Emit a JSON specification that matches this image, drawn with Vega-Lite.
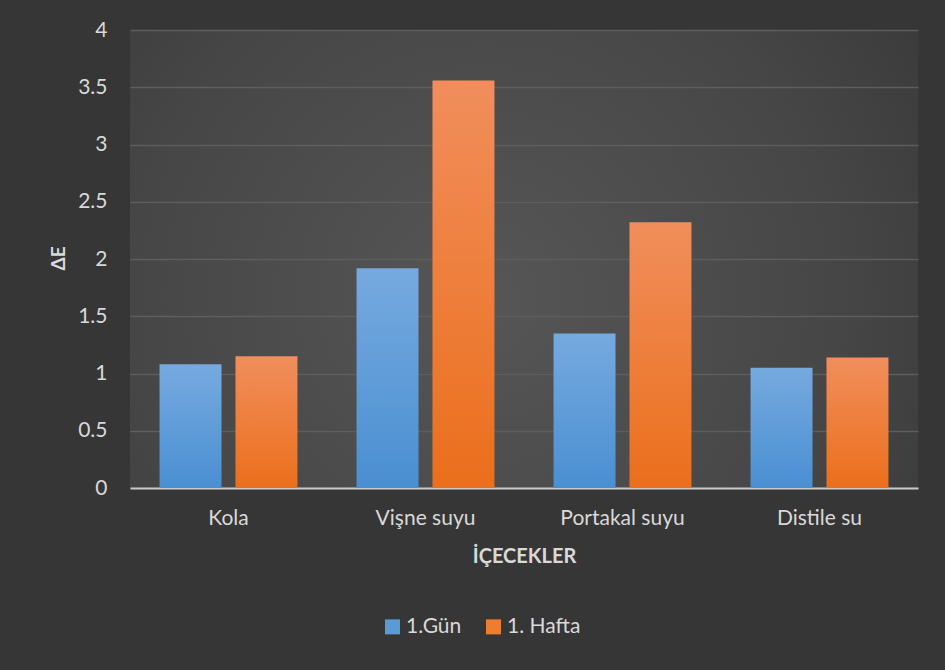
{
  "$schema": "https://vega.github.io/schema/vega-lite/v6.json",
  "autosize": "none",
  "width": 788,
  "height": 458,
  "padding": {"left": 130, "top": 30, "right": 27, "bottom": 182},
  "background": "#363636",
  "config": {
    "font": "Lato",
    "view": {
      "stroke": null,
      "fill": {
        "gradient": "radial",
        "x1": 0.45, "y1": 0.55, "r1": 0,
        "x2": 0.45, "y2": 0.55, "r2": 0.75,
        "stops": [
          {"offset": 0, "color": "#565656"},
          {"offset": 0.6, "color": "#464646"},
          {"offset": 1, "color": "#363636"}
        ]
      }
    }
  },
  "data": {
    "values": [
      {"drink": "Kola", "series": "1.Gün", "value": 1.08},
      {"drink": "Kola", "series": "1. Hafta", "value": 1.15},
      {"drink": "Vişne suyu", "series": "1.Gün", "value": 1.92},
      {"drink": "Vişne suyu", "series": "1. Hafta", "value": 3.56},
      {"drink": "Portakal suyu", "series": "1.Gün", "value": 1.35},
      {"drink": "Portakal suyu", "series": "1. Hafta", "value": 2.32},
      {"drink": "Distile su", "series": "1.Gün", "value": 1.05},
      {"drink": "Distile su", "series": "1. Hafta", "value": 1.14}
    ]
  },
  "mark": {"type": "bar", "strokeWidth": 0},
  "encoding": {
    "x": {
      "field": "drink",
      "type": "nominal",
      "sort": ["Kola", "Vişne suyu", "Portakal suyu", "Distile su"],
      "scale": {"paddingInner": 0.3, "paddingOuter": 0.15},
      "axis": {
        "title": "İÇECEKLER",
        "labelAngle": 0,
        "labelFont": "Lato",
        "labelFontSize": 21,
        "labelColor": "#d9d9d9",
        "labelPadding": 19,
        "ticks": false,
        "tickSize": 0,
        "domainColor": "#c8c8c8",
        "domainWidth": 2,
        "grid": false,
        "titleFont": "Lato",
        "titleFontSize": 20,
        "titleFontWeight": "bold",
        "titleColor": "#d9d9d9",
        "titleY": 68,
        "titleBaseline": "middle"
      }
    },
    "xOffset": {
      "field": "series",
      "type": "nominal",
      "sort": ["1.Gün", "1. Hafta"],
      "scale": {"paddingInner": 0.184, "paddingOuter": 0}
    },
    "y": {
      "field": "value",
      "type": "quantitative",
      "scale": {"domain": [0, 4]},
      "axis": {
        "title": "ΔE",
        "values": [0, 0.5, 1, 1.5, 2, 2.5, 3, 3.5, 4],
        "format": ".1~f",
        "domain": false,
        "ticks": false,
        "tickSize": 0,
        "labelFont": "Lato",
        "labelFontSize": 21,
        "labelColor": "#d9d9d9",
        "labelPadding": 23,
        "gridColor": "#5e5e5e",
        "gridWidth": 1.5,
        "titleFont": "Lato",
        "titleFontSize": 19,
        "titleFontWeight": "bold",
        "titleColor": "#d9d9d9",
        "titleX": -72,
        "titleY": 228,
        "titleAngle": -90,
        "titleAlign": "center",
        "titleBaseline": "middle"
      }
    },
    "fill": {
      "condition": {
        "test": "datum.series === '1.Gün'",
        "value": {
          "gradient": "linear", "x1": 0, "y1": 0, "x2": 0, "y2": 1,
          "stops": [
            {"offset": 0, "color": "#76aadf"},
            {"offset": 1, "color": "#4a8fd2"}
          ]
        }
      },
      "value": {
        "gradient": "linear", "x1": 0, "y1": 0, "x2": 0, "y2": 1,
        "stops": [
          {"offset": 0, "color": "#f18e5c"},
          {"offset": 1, "color": "#eb6f1c"}
        ]
      }
    },
    "stroke": {
      "field": "series",
      "type": "nominal",
      "scale": {"domain": ["1.Gün", "1. Hafta"], "range": ["#5b9bd5", "#ed7d31"]},
      "legend": {
        "title": null,
        "orient": "none",
        "direction": "horizontal",
        "legendX": 252,
        "legendY": 586,
        "symbolType": "square",
        "symbolSize": 56,
        "symbolStrokeWidth": 7.5,
        "symbolFillColor": "transparent",
        "labelFont": "Lato",
        "labelFontSize": 21,
        "labelColor": "#d9d9d9",
        "labelOffset": 3,
        "columnPadding": 12
      }
    }
  }
}
